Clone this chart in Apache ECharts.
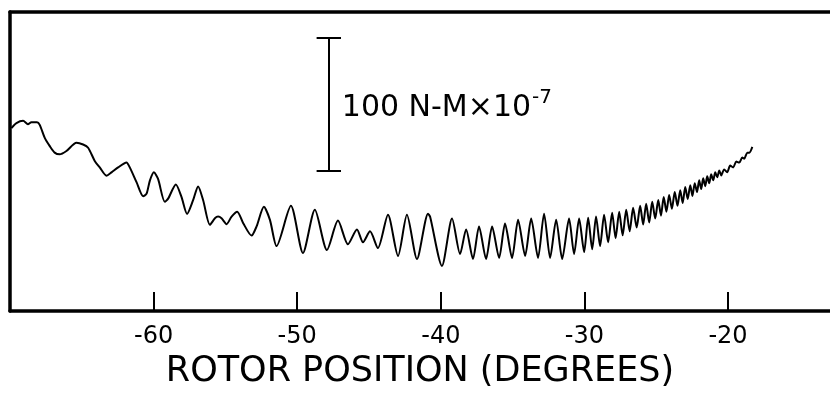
<!DOCTYPE html>
<html>
<head>
<meta charset="utf-8">
<script src="https://cdn.jsdelivr.net/npm/echarts@6/dist/echarts.min.js"></script>
<style>
html,body{margin:0;padding:0;background:#fff;}
#c{width:830px;height:394px;}
</style>
</head>
<body>
<div id="c"></div>
<script>
// Rotor position (degrees)
const rotorDeg = [
-69.90,-69.55,-69.09,-68.75,-68.51,-68.12,-67.93,-67.58,-67.23,-66.89,-66.54,-66.07,-65.37,-64.91,-64.56,-64.10,-63.75,-63.28,-62.93,-62.47,-61.89,-61.66,-61.19,-60.73,-60.49,-60.26,-59.98,-59.69,-59.22,-58.99,-58.45,-58.06,-57.67,-57.25,-56.90,-56.55,-56.08,-55.73,-55.51,-55.27,-54.92,-54.57,-54.18,-53.76,-53.18,-52.83,-52.32,-51.90,-51.44,
-50.44,-49.60,-48.77,-47.93,-47.16,-46.47,-45.84,-45.42,-44.93,-44.38,-43.68,-42.98,-42.36,-41.66,-40.89,-40.75,-39.92,-39.22,-38.66,
-38.24,-37.76,-37.34,-36.85,-36.43,-35.94,-35.53,-35.04,-34.62,-34.13,-33.71,-33.23,-32.81,-32.39,-31.97,-31.55,-31.07,-30.72,
-30.37,-30.02,-29.74,-29.46,-29.19,-28.91,-28.63,-28.35,-28.07,-27.83,-27.58,-27.34,-27.09,-26.85,-26.61,-26.36,-26.12,-25.91,-25.70,-25.49,-25.28,-25.07,-24.86,-24.67,-24.48,-24.29,-24.10,-23.91,-23.71,-23.52,-23.33,-23.16,-22.98,-22.81,-22.63,-22.48,-22.32,-22.16,-22.01,-21.87,-21.73,-21.59,-21.45,-21.31,-21.17,-21.03,-20.89,-20.75,-20.61,-20.47,
-20.27,-20.06,-19.85,-19.64,-19.43,-19.22,-19.01,-18.87,-18.66,-18.52,-18.31
];
// Torque (N-M x 10^-7, arbitrary zero)
const torque = [
137.7,141.4,143.1,140.6,142.1,142.1,140.1,130.3,124.1,119.2,117.9,120.4,126.6,125.3,122.9,113.0,108.1,101.9,104.4,108.1,111.8,108.1,97.0,86.4,88.3,98.2,104.4,99.4,82.2,84.6,95.3,85.9,73.1,83.4,93.8,83.4,64.9,69.8,71.1,69.8,65.4,71.1,74.8,66.1,56.8,63.7,78.5,68.6,48.9,
79.2,43.7,76.2,45.9,68.1,50.3,61.4,51.8,60.0,47.4,72.5,41.5,72.5,39.2,73.3,71.1,34.0,69.6,42.9,
61.4,39.2,63.7,39.2,63.7,40.0,65.9,40.0,68.8,41.5,69.6,40.0,73.3,40.0,68.8,39.2,69.6,42.9,
69.6,44.4,70.3,46.6,71.1,48.9,72.5,51.8,74.0,54.8,74.8,57.0,76.2,60.0,77.7,62.9,79.2,65.1,80.7,66.6,82.2,69.6,83.6,71.8,85.9,74.8,87.3,77.0,89.6,79.2,91.0,81.4,93.3,84.4,94.7,86.6,96.2,89.6,98.4,91.8,99.9,94.0,101.4,96.2,102.9,98.4,104.4,100.7,105.8,102.1,
106.6,104.4,109.5,108.1,112.5,111.7,115.5,114.7,119.2,119.2,123.6
];
const tickValues = [-60, -50, -40, -30, -20];
const xTitle = 'ROTOR POSITION (DEGREES)';
const scaleBarLabel = '100 N-M×10';
const scaleBarExp = '-7';
const scaleBarDeg = -47.8;
const scaleBarFrom = 105.8;
const scaleBarSpan = 100;

const FONT = 'DejaVu Sans';
const chart = echarts.init(document.getElementById('c'), null, {renderer: 'canvas'});
const data = rotorDeg.map((d, i) => [d, torque[i]]);
const capHalf = 0.85;

const option = {
  animation: false,
  backgroundColor: '#fff',
  grid: {left: 10, right: 0, top: 12, bottom: 78, containLabel: false},
  xAxis: [{
    type: 'value', min: -70, max: -12.9, interval: 10, position: 'bottom',
    axisLine: {show: true, onZero: false, lineStyle: {color: '#000', width: 3.5}},
    axisTick: {show: true, inside: true, length: 19, customValues: tickValues, lineStyle: {color: '#000', width: 2}},
    axisLabel: {show: true, customValues: tickValues, margin: 14, fontSize: 24, color: '#000', fontFamily: FONT},
    splitLine: {show: false},
    name: xTitle, nameLocation: 'middle', nameGap: 38,
    nameTextStyle: {fontSize: 35, color: '#000', fontFamily: FONT}
  }, {
    type: 'value', min: -70, max: -12.9, position: 'top',
    axisLine: {show: true, onZero: false, lineStyle: {color: '#000', width: 3.5}},
    axisTick: {show: false}, axisLabel: {show: false}, splitLine: {show: false}
  }],
  yAxis: {
    type: 'value', min: 0, max: 225,
    axisLine: {show: true, onZero: false, lineStyle: {color: '#000', width: 3.5}},
    axisTick: {show: false}, axisLabel: {show: false}, splitLine: {show: false}
  },
  series: [{
    type: 'line', data: data, showSymbol: false, smooth: 0.25,
    lineStyle: {color: '#000', width: 2},
    markLine: {
      silent: true, symbol: 'none', label: {show: false},
      lineStyle: {color: '#000', width: 2, type: 'solid'},
      data: [
        [{coord: [scaleBarDeg, scaleBarFrom]}, {coord: [scaleBarDeg, scaleBarFrom + scaleBarSpan]}],
        [{coord: [scaleBarDeg - capHalf, scaleBarFrom]}, {coord: [scaleBarDeg + capHalf, scaleBarFrom]}],
        [{coord: [scaleBarDeg - capHalf, scaleBarFrom + scaleBarSpan]}, {coord: [scaleBarDeg + capHalf, scaleBarFrom + scaleBarSpan]}]
      ]
    }
  }]
};
chart.setOption(option);
const p = chart.convertToPixel({gridIndex: 0}, [scaleBarDeg, scaleBarFrom + scaleBarSpan * 0.49]);
chart.setOption({
  graphic: [{
    type: 'text', left: p[0] + 13, top: p[1] - 18,
    style: {
      text: '{a|' + scaleBarLabel + '}{b|' + scaleBarExp + '}',
      fill: '#000', fontFamily: FONT,
      rich: {
        a: {fontSize: 30, lineHeight: 36, fontFamily: FONT, fill: '#000', verticalAlign: 'bottom'},
        b: {fontSize: 20, lineHeight: 20, fontFamily: FONT, fill: '#000', verticalAlign: 'top', padding: [0, 0, 0, 1]}
      }
    }
  }]
});
</script>
</body>
</html>
